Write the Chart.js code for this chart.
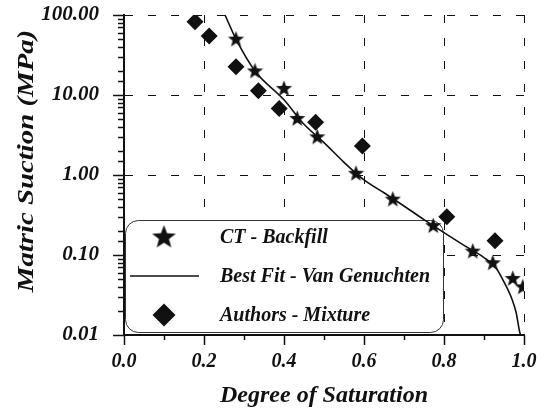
<!DOCTYPE html>
<html>
<head>
<meta charset="utf-8">
<script src="https://cdn.jsdelivr.net/npm/chart.js@4.4.1/dist/chart.umd.min.js"></script>
<style>
html,body{margin:0;padding:0;background:#fff}
</style>
</head>
<body>
<canvas id="grafico" width="545" height="412"></canvas>
<script>
// CT - Backfill (estrelas)
const ctSat=[0.28,0.3275,0.40,0.433,0.483,0.58,0.672,0.773,0.872,0.922,0.972,0.997];
const ctSuc=[50,20,12.1,5.1,3.0,1.05,0.5,0.233,0.112,0.080,0.051,0.040];

// Authors - Mixture (losangos)
const mixSat=[0.1775,0.213,0.28,0.336,0.388,0.479,0.596,0.807,0.9275];
const mixSuc=[82.6,54.6,22.6,11.3,6.8,4.55,2.3,0.30,0.151];

// Best Fit - Van Genuchten, lido ao longo da curva
const fitSat=[0.2525,0.28,0.3275,0.40,0.45,0.50,0.55,0.60,0.65,0.70,0.75,0.80,0.85,0.90,0.93,0.95,0.97,0.98,0.99,0.992];
const fitSuc=[100,50,20,8.7,4.3,2.54,1.44,0.87,0.6,0.41,0.277,0.19,0.132,0.093,0.069,0.046,0.028,0.0194,0.0105,0.01];

const tituloX="Degree of Saturation";
const tituloY="Matric Suction (MPa)";

const preto="#111";
const fonte='"Liberation Serif","Times New Roman",serif';

function estrela(tam){
const c=document.createElement("canvas");
c.width=tam;c.height=tam;
const g=c.getContext("2d");
const R=tam/2,r=R*0.42;
g.fillStyle=preto;
g.beginPath();
for(let i=0;i<10;i++){
const a=-Math.PI/2+i*Math.PI/5;
const rr=i%2?r:R;
g.lineTo(R+rr*Math.cos(a),R+0.5+rr*Math.sin(a));
}
g.closePath();
g.fill();
return c;
}

const estrelaPeq=estrela(17);
const estrelaGde=estrela(25);

const pares=(xs,ys)=>xs.map((x,i)=>({x:x,y:ys[i]}));

const ehMaiorX=v=>Math.abs(v*5-Math.round(v*5))<1e-6;
const ehMaiorY=v=>Math.abs(Math.log10(v)-Math.round(Math.log10(v)))<1e-6;

// caixa da legenda, por baixo dos dados
const legenda={
id:"legenda",
beforeDatasetsDraw(chart){
const ctx=chart.ctx;
const a=chart.chartArea;
const x0=a.left+1.5,y0=a.top+205.5,w=318,h=112,rad=13;
ctx.save();
ctx.beginPath();
ctx.roundRect(x0,y0,w,h,rad);
ctx.fillStyle="#fff";
ctx.fill();
ctx.lineWidth=1;
ctx.strokeStyle="#333";
ctx.stroke();

const ds=chart.data.datasets;
const linhas=[a.top+222,a.top+261,a.top+300];
const sx=a.left+40;
ctx.font="italic bold 20px "+fonte;
ctx.fillStyle=preto;
ctx.textBaseline="middle";
ctx.textAlign="left";
ds.forEach((d,i)=>{
const y=linhas[i];
if(d.showLine){
ctx.beginPath();
ctx.moveTo(a.left+6,y);
ctx.lineTo(a.left+75,y);
ctx.lineWidth=1.5;
ctx.strokeStyle=preto;
ctx.stroke();
}else if(d.pointStyle==="rectRot"){
ctx.beginPath();
ctx.moveTo(sx,y-11.5);
ctx.lineTo(sx+11.5,y);
ctx.lineTo(sx,y+11.5);
ctx.lineTo(sx-11.5,y);
ctx.closePath();
ctx.fill();
}else{
ctx.drawImage(estrelaGde,sx-12.5,y-12.5);
}
ctx.fillText(d.label,a.left+96,y+1);
});
ctx.restore();
}
};

// marcas dos eixos (maiores e menores), por fora, e titulo do eixo y
const marcas={
id:"marcas",
afterDraw(chart){
const ctx=chart.ctx;
const a=chart.chartArea;
const sx=chart.scales.x,sy=chart.scales.y;
ctx.save();
ctx.strokeStyle=preto;
ctx.lineWidth=1.5;
ctx.beginPath();
sy.ticks.forEach(t=>{
const p=Math.round(sy.getPixelForValue(t.value))+0.5;
const L=ehMaiorY(t.value)?11:6;
ctx.moveTo(a.left-L,p);
ctx.lineTo(a.left,p);
});
sx.ticks.forEach(t=>{
const p=Math.round(sx.getPixelForValue(t.value))+0.5;
const L=ehMaiorX(t.value)?10:5;
ctx.moveTo(p,a.bottom);
ctx.lineTo(p,a.bottom+L);
});
ctx.stroke();

ctx.translate(27,161);
ctx.rotate(-Math.PI/2);
ctx.scale(1.2,1);
ctx.font="italic bold 24px "+fonte;
ctx.fillStyle=preto;
ctx.textAlign="center";
ctx.textBaseline="middle";
ctx.fillText(tituloY,0,0);
ctx.restore();
}
};

new Chart(document.getElementById("grafico"),{
type:"scatter",
data:{
datasets:[
{label:"CT - Backfill",data:pares(ctSat,ctSuc),pointStyle:estrelaPeq,pointRadius:8,showLine:false},
{label:"Best Fit - Van Genuchten",data:pares(fitSat,fitSuc),showLine:true,pointRadius:0,borderColor:preto,borderWidth:1.6,cubicInterpolationMode:"monotone"},
{label:"Authors - Mixture",data:pares(mixSat,mixSuc),pointStyle:"rectRot",pointRadius:8.5,backgroundColor:preto,borderWidth:0,showLine:false}
]
},
options:{
responsive:false,
animation:false,
events:[],
layout:{padding:{top:15,right:21,left:0,bottom:0}},
plugins:{legend:{display:false},tooltip:{enabled:false}},
scales:{
x:{
type:"linear",min:0,max:1,
afterFit(s){s.height=77;s.paddingLeft=0;s.paddingRight=0;},
ticks:{stepSize:0.1,autoSkip:false,maxRotation:0,padding:15,color:preto,
font:{family:fonte,size:20,weight:"bold",style:"italic"},
callback:v=>ehMaiorX(v)?v.toFixed(1):""},
grid:{drawTicks:false,lineWidth:1,color:c=>ehMaiorX(c.tick.value)?preto:"transparent"},
border:{color:preto,width:2,dash:[8,15]},
title:{display:true,text:tituloX,color:preto,padding:{top:0,bottom:2},
font:{family:fonte,size:24,weight:"bold",style:"italic"}}
},
y:{
type:"logarithmic",min:0.01,max:100,
afterFit(s){s.width=124;s.paddingTop=0;s.paddingBottom=0;},
ticks:{autoSkip:false,padding:25,color:preto,
font:{family:fonte,size:21,weight:"bold",style:"italic"},
callback:v=>ehMaiorY(v)?Number(v).toFixed(2):""},
grid:{drawTicks:false,lineWidth:1,color:c=>ehMaiorY(c.tick.value)?preto:"transparent"},
border:{color:preto,width:2,dash:[8,15]},
title:{display:false}
}
}
},
plugins:[legenda,marcas]
});
</script>
</body>
</html>
